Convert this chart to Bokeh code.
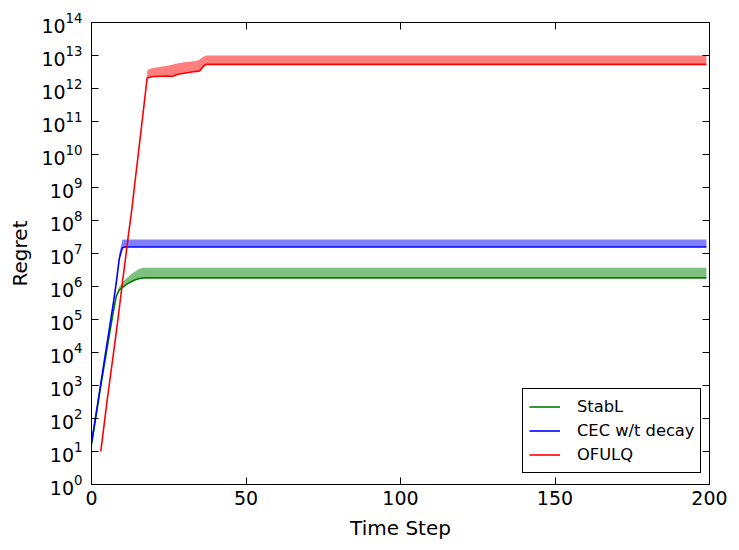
from bokeh.plotting import figure
from bokeh.models import FixedTicker, LogAxis, LinearAxis, LogTickFormatter, Range1d, CustomJSTickFormatter
from bokeh.embed import file_html
from bokeh.resources import INLINE

# ---- data ----
stabl_t = [0, 1, 2, 3, 4, 5, 6, 7, 8, 9, 10, 11, 12, 13, 14, 15, 16, 17, 199]
stabl_mean = [1.6e1, 6.3e1, 2.5e2, 1.0e3, 3.5e3, 1.26e4, 4.5e4, 1.6e5, 5.0e5, 7.9e5,
              9.3e5, 1.1e6, 1.26e6, 1.41e6, 1.58e6, 1.7e6, 1.78e6, 1.82e6, 1.82e6]
stabl_band_t = [8, 9, 10, 11, 12, 13, 14, 15, 16, 17, 199]
stabl_band_lo = [5.0e5, 7.9e5, 9.3e5, 1.1e6, 1.26e6, 1.41e6, 1.58e6, 1.7e6, 1.78e6, 1.82e6, 1.82e6]
stabl_band_hi = [5.6e5, 1.0e6, 1.32e6, 1.66e6, 2.0e6, 2.4e6, 2.8e6, 3.2e6, 3.55e6, 3.7e6, 3.7e6]

cec_t = [0, 1, 2, 3, 4, 5, 6, 7, 8, 9, 10, 11, 199]
cec_mean = [1.86e1, 7.1e1, 2.8e2, 1.12e3, 4.5e3, 1.78e4, 7.1e4, 2.8e5, 1.26e6, 7.1e6,
            1.51e7, 1.58e7, 1.58e7]
cec_band_t = [9, 10, 11, 199]
cec_band_lo = [7.1e6, 1.51e7, 1.58e7, 1.58e7]
cec_band_hi = [1.0e7, 2.6e7, 2.65e7, 2.65e7]

ofulq_t = [3, 4, 5, 6, 7, 8, 9, 10, 11, 12, 13, 14, 15, 16, 17, 18,
           19, 20, 22, 25, 26, 28, 30, 31, 33, 34, 35, 36, 37, 199]
ofulq_mean = [1.0e1, 5.6e1, 3.2e2, 1.6e3, 7.9e3, 4.0e4, 2.2e5, 1.3e6, 7.1e6, 4.0e7,
              2.0e8, 1.3e9, 7.9e9, 5.0e10, 3.2e11, 2.1e12,
              2.2e12, 2.3e12, 2.35e12, 2.4e12, 2.3e12, 2.7e12, 2.9e12, 3.0e12, 3.2e12,
              3.3e12, 3.4e12, 4.5e12, 5.4e12, 5.4e12]
ofulq_band_t = [18, 19, 20, 22, 25, 26, 28, 30, 31, 33, 34, 35, 36, 37, 199]
ofulq_band_lo = [2.1e12, 2.2e12, 2.3e12, 2.35e12, 2.4e12, 2.3e12, 2.7e12, 2.9e12, 3.0e12,
                 3.2e12, 3.3e12, 3.4e12, 4.5e12, 5.4e12, 5.4e12]
ofulq_band_hi = [3.5e12, 4.0e12, 4.2e12, 4.5e12, 5.0e12, 5.2e12, 5.8e12, 6.2e12, 6.3e12,
                 6.7e12, 6.9e12, 7.6e12, 8.9e12, 1.0e13, 1.0e13]

x_ticks = [0, 50, 100, 150, 200]
y_ticks = [1e0, 1e1, 1e2, 1e3, 1e4, 1e5, 1e6, 1e7, 1e8, 1e9, 1e10, 1e11, 1e12, 1e13, 1e14]

FONT = "DejaVu Sans"

p = figure(width=731, height=542, output_backend="svg", toolbar_location=None,
           y_axis_type="log", x_range=Range1d(0, 200), y_range=Range1d(1e0, 1e14),
           min_border_left=91, min_border_right=22, min_border_top=22, min_border_bottom=53)
p.background_fill_color = "white"
p.border_fill_color = "white"
p.outline_line_color = "black"
p.outline_line_width = 1
p.xgrid.visible = False
p.ygrid.visible = False

# bands
p.varea(x=stabl_band_t, y1=stabl_band_lo, y2=stabl_band_hi, fill_color="#008000", fill_alpha=0.5)
p.varea(x=cec_band_t, y1=cec_band_lo, y2=cec_band_hi, fill_color="#0000ff", fill_alpha=0.5)
p.varea(x=ofulq_band_t, y1=ofulq_band_lo, y2=ofulq_band_hi, fill_color="#ff0000", fill_alpha=0.5)

# lines
p.line(stabl_t, stabl_mean, line_color="#008000", line_width=1.6, legend_label="StabL")
p.line(cec_t, cec_mean, line_color="#0000ff", line_width=1.6, legend_label="CEC w/t decay")
p.line(ofulq_t, ofulq_mean, line_color="#ff0000", line_width=1.6, legend_label="OFULQ")

def style_axis(ax):
    ax.axis_line_color = "black"
    ax.axis_line_width = 1
    ax.major_tick_in = 7
    ax.major_tick_out = 0
    ax.major_tick_line_color = "black"
    ax.minor_tick_line_color = None
    ax.major_label_text_font = FONT
    ax.major_label_text_color = "black"
    ax.major_label_text_font_size = "19px"
    ax.major_label_standoff = 7

xa = p.xaxis[0]
ya = p.yaxis[0]
xa.ticker = FixedTicker(ticks=x_ticks)
ya.ticker = FixedTicker(ticks=y_ticks)
ya.formatter = LogTickFormatter()
style_axis(xa)
style_axis(ya)
ya.major_label_standoff = 9
xa.major_label_standoff = 6
xa.axis_label = "Time Step"
ya.axis_label = "Regret"
for ax in (xa, ya):
    ax.axis_label_text_font = FONT
    ax.axis_label_text_font_size = "20px"
    ax.axis_label_text_font_style = "normal"
    ax.axis_label_text_color = "black"
xa.axis_label_standoff = 8
ya.axis_label_standoff = 6

top = LinearAxis(ticker=FixedTicker(ticks=x_ticks), formatter=CustomJSTickFormatter(code="return ''"))
style_axis(top)
top.major_label_standoff = 0
p.add_layout(top, "above")
right = LogAxis(ticker=FixedTicker(ticks=y_ticks), formatter=CustomJSTickFormatter(code="return ''"))
style_axis(right)
right.major_label_standoff = 0
p.add_layout(right, "right")

lg = p.legend[0]
lg.location = (431, 11)
lg.margin = 0
lg.padding = 6
lg.spacing = 1
lg.label_height = 23
lg.glyph_height = 23
lg.glyph_width = 31
lg.label_standoff = 17
lg.label_text_font = FONT
lg.label_text_font_size = "16.3px"
lg.label_text_color = "black"
lg.border_line_color = "black"
lg.border_line_width = 1
lg.border_line_alpha = 1
lg.background_fill_color = "white"
lg.background_fill_alpha = 1

open("out.html", "w").write(file_html(p, INLINE))
